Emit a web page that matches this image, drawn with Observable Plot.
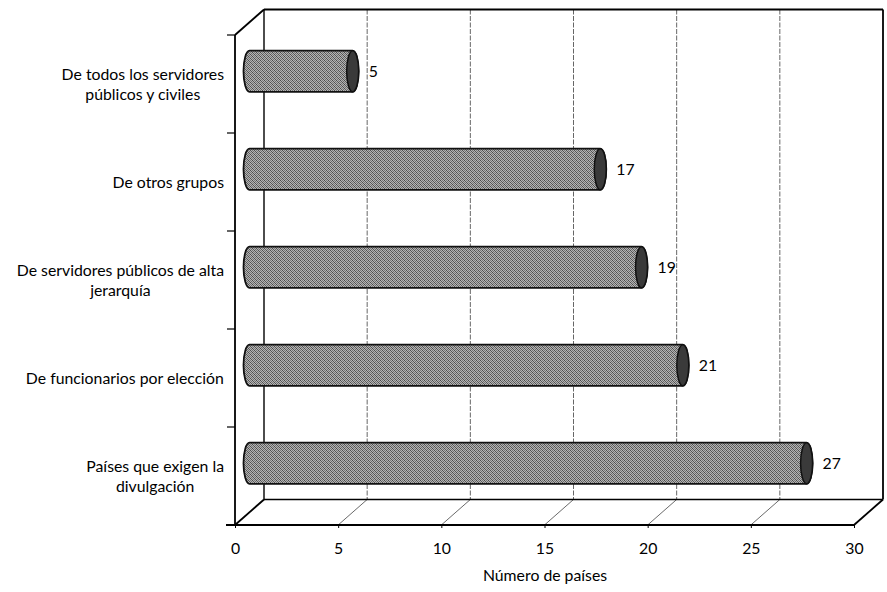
<!DOCTYPE html>
<html><head><meta charset="utf-8">
<script src="https://cdn.jsdelivr.net/npm/d3@7"></script>
<script src="https://cdn.jsdelivr.net/npm/@observablehq/plot@0.6"></script>
<style>body{margin:0;background:#fff}</style>
</head><body><div id="chart"></div>
<script>
// ---- data ----
const categories = [
  "De todos los servidores\npúblicos y civiles",
  "De otros grupos",
  "De servidores públicos de alta\njerarquía",
  "De funcionarios por elección",
  "Países que exigen la\ndivulgación"
];
const values = [5, 17, 19, 21, 27];
const xTicks = [0, 5, 10, 15, 20, 25, 30];
const xLabel = "Número de países";

const data = categories.map((c, i) => ({category: c, value: values[i]}));

// ---- style constants ----
const FONT = "Lato, 'Open Sans', sans-serif";
const DX = 29, DY = -25.5;          // depth offset of back wall (px)
const BDX = DX / 2, BDY = DY / 2;   // bars sit halfway in depth
const RX = 6;                       // ellipse half-width of cylinder caps
const BAR_FRAC = 0.42;              // bar thickness relative to band

function boxMark(index, scales, values_, dims) {
  const {x, y} = scales;
  const L = dims.marginLeft, R = dims.width - dims.marginRight;
  const T = dims.marginTop, B = dims.height - dims.marginBottom;
  const g = d3.create("svg:g").attr("fill", "none");
  for (const t of xTicks.slice(1, -1)) {
    // back-wall gridlines
    g.append("line").attr("x1", x(t) + DX).attr("x2", x(t) + DX)
      .attr("y1", T + DY).attr("y2", B + DY)
      .attr("stroke", "#555").attr("stroke-width", 0.9).attr("stroke-dasharray", "5,1.5");
    // floor diagonals
    g.append("line").attr("x1", x(t)).attr("y1", B).attr("x2", x(t) + DX).attr("y2", B + DY)
      .attr("stroke", "#444").attr("stroke-width", 0.8);
  }
  const line = (x1, y1, x2, y2, w) => g.append("line")
    .attr("x1", x1).attr("y1", y1).attr("x2", x2).attr("y2", y2)
    .attr("stroke", "#000").attr("stroke-width", w);
  // back wall
  line(L + DX, T + DY, R + DX, T + DY, 2);
  line(R + DX, T + DY, R + DX, B + DY, 1.8);
  line(L + DX, T + DY, L + DX, B + DY, 1.4);
  line(L + DX, B + DY, R + DX, B + DY, 1.4);
  // side / floor edges
  line(L, T, L + DX, T + DY, 1.8);
  line(L, B, L + DX, B + DY, 1.8);
  line(R, B, R + DX, B + DY, 1.8);
  // front axes
  line(L, T, L, B, 1.8);
  line(L - 9, B, R, B, 1.8);
  // category boundary ticks
  for (const c of categories) line(L - 8, y(c), L, y(c), 1.2);
  return g.node();
}

function cylinderMark(index, scales, values_, dims) {
  const {x, y} = scales;
  const bw = y.bandwidth();
  const r = bw * BAR_FRAC / 2;
  const g = d3.create("svg:g");
  for (const d of data) {
    const x0 = x(0) + BDX, x1 = x(d.value) + BDX;
    const yc = y(d.category) + bw / 2 + BDY;
    const path = `M${x0},${yc - r}L${x1},${yc - r}A${RX},${r} 0 0 1 ${x1},${yc + r}` +
                 `L${x0},${yc + r}A${RX},${r} 0 0 1 ${x0},${yc - r}Z`;
    g.append("path").attr("d", path).attr("fill", "url(#halftone)")
      .attr("stroke", "#111").attr("stroke-width", 1.8);
    g.append("ellipse").attr("cx", x1).attr("cy", yc).attr("rx", RX).attr("ry", r)
      .attr("fill", "#3a3a3a").attr("stroke", "#111").attr("stroke-width", 1.5);
    g.append("text").attr("x", x1 + RX + 10).attr("y", yc).attr("dy", "0.35em")
      .attr("text-anchor", "start")
      .attr("font-size", 15.8).attr("fill", "#000").text(d.value);
  }
  return g.node();
}

function labelMark(index, scales, values_, dims) {
  const {y} = scales;
  const bw = y.bandwidth();
  const ctx = document.createElement("canvas").getContext("2d");
  const fs = 15.8;
  ctx.font = `${fs}px Lato`;
  const right = dims.marginLeft - 11;
  const lh = 20;
  const g = d3.create("svg:g").attr("font-size", fs).attr("fill", "#000").attr("text-anchor", "middle");
  for (const c of categories) {
    const lines = c.split("\n");
    const w = Math.max(...lines.map(l => ctx.measureText(l).width));
    const cx = right - w / 2;
    const cy = y(c) + bw / 2;
    lines.forEach((l, i) => {
      g.append("text").attr("x", cx).attr("y", cy + (i - (lines.length - 1) / 2) * lh)
        .attr("dy", "0.35em").text(l);
    });
  }
  return g.node();
}

const plot = Plot.plot({
  width: 887,
  height: 592,
  marginLeft: 235,
  marginRight: 33,
  marginTop: 35,
  marginBottom: 67,
  style: {fontFamily: FONT, fontSize: "15.8px", background: "#fff", color: "#000"},
  x: {domain: [0, 30], ticks: xTicks, tickSize: 3, tickPadding: 14, label: null},
  y: {type: "band", domain: categories, padding: 0, axis: null},
  marks: [
    boxMark,
    cylinderMark,
    labelMark,
    Plot.text([xLabel], {frameAnchor: "bottom", dy: 55, fontSize: 15.8, text: d => d})
  ]
});

// halftone-like stipple fill pattern
const defs = d3.select(plot).insert("defs", ":first-child");
const pat = defs.append("pattern").attr("id", "halftone").attr("patternUnits", "userSpaceOnUse")
  .attr("width", 4).attr("height", 4);
pat.append("rect").attr("width", 4).attr("height", 4).attr("fill", "#b4b4b4");
for (const [px, py, c] of [[0,0,"#4a4a4a"],[2,0,"#7a7a7a"],[1,1,"#5a5a5a"],[3,1,"#6a6a6a"],
                           [0,2,"#777"],[2,2,"#4e4e4e"],[1,3,"#6e6e6e"],[3,3,"#555"]]) {
  pat.append("rect").attr("x", px).attr("y", py).attr("width", 1).attr("height", 1).attr("fill", c);
}

document.getElementById("chart").append(plot);
</script>
</body></html>
